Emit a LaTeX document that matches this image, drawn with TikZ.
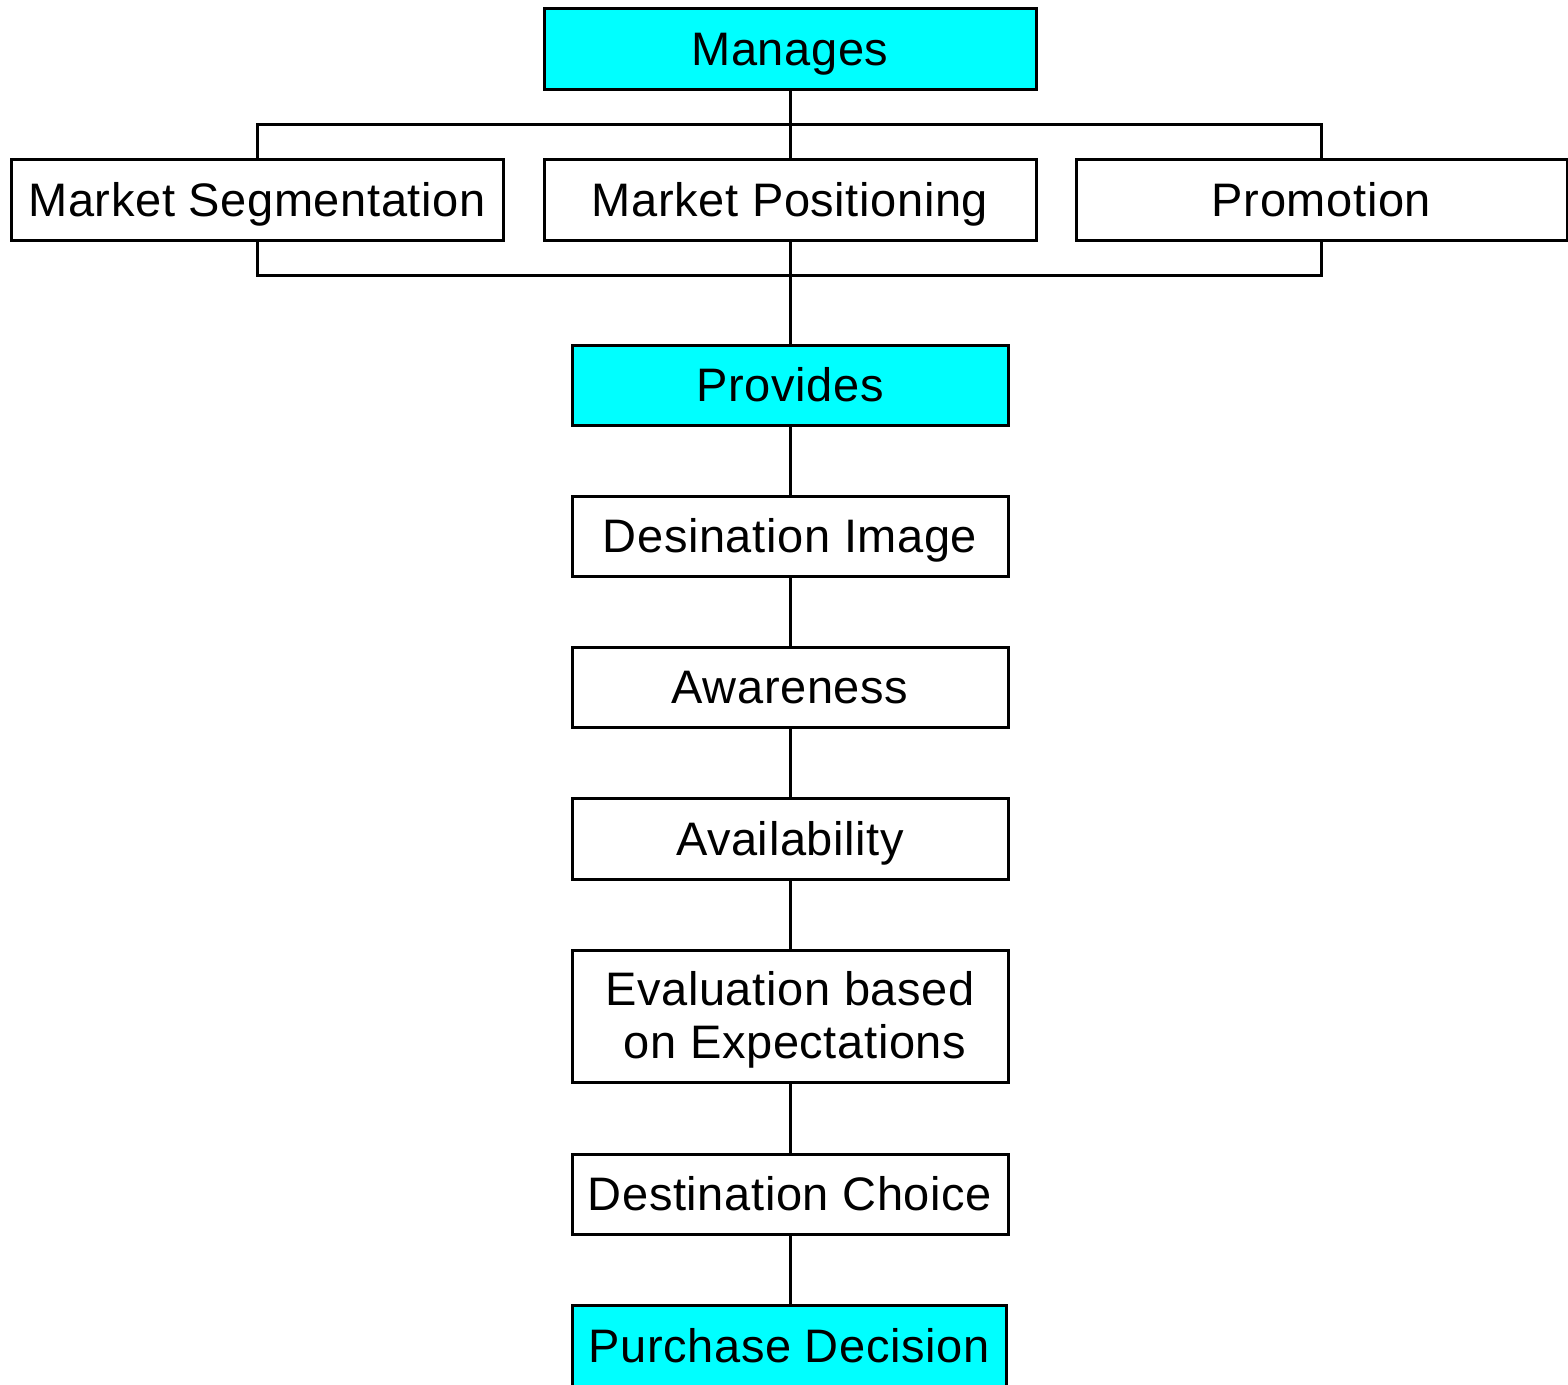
\documentclass[tikz,border=0pt]{standalone}
\usepackage{fontspec}
\setmainfont{Liberation Sans}[LetterSpace=1.3]
\definecolor{boxcyan}{RGB}{0,255,255}
\begin{document}
\begin{tikzpicture}[x=1pt,y=-1pt,
  box/.style={draw=black,line width=3pt,inner sep=0pt,fill=white,
    font=\fontsize{47}{53}\selectfont,align=center,text height=33.6pt,text depth=0pt},
  hl/.style={box,fill=boxcyan},
  conn/.style={draw=black,line width=3pt}]
\clip (0,0) rectangle (1568,1384);
\useasboundingbox (0,0) rectangle (1568,1384);
% boxes: centers and sizes from pixel measurements
\node[hl,minimum width=492pt,minimum height=81pt] (man) at (790,48.5) {Manages};
\node[box,minimum width=492pt,minimum height=81pt] (ms) at (257,199.5) {Market Segmentation};
\node[box,minimum width=492pt,minimum height=81pt] (mp) at (790,199.5) {Market Positioning};
\node[box,minimum width=491pt,minimum height=81pt] (pro) at (1321.5,199.5) {Promotion};
\node[hl,minimum width=436pt,minimum height=80pt] (prov) at (790,385) {Provides};
\node[box,minimum width=436pt,minimum height=80pt] (di) at (790,536) {Desination Image};
\node[box,minimum width=436pt,minimum height=80pt] (aw) at (790,687) {Awareness};
\node[box,minimum width=436pt,minimum height=81pt] (av) at (790,838.5) {Availability};
\node[box,text height=,text depth=,minimum width=436pt,minimum height=132pt] (ev) at (790,1016) {\raisebox{-4pt}[\height][\depth]{\parbox{436pt}{\centering Evaluation based\\ \hspace*{10pt}on Expectations}}};
\node[box,minimum width=436pt,minimum height=80pt] (dc) at (790,1194) {Destination Choice};
\node[hl,minimum width=434pt,minimum height=82pt] (pd) at (789,1346) {Purchase Decision};
% bar coordinates
\coordinate (topbar) at (790,124);
\coordinate (botbar) at (790,275);
% connectors
\draw[conn] (man.south) -- (mp.north);
\draw[conn] (ms.north) -- (ms.north |- topbar) -- (pro.north |- topbar) -- (pro.north);
\draw[conn] (ms.south) -- (ms.south |- botbar) -- (pro.south |- botbar) -- (pro.south);
\draw[conn] (mp.south) -- (prov.north);
\draw[conn] (prov.south) -- (di.north);
\draw[conn] (di.south) -- (aw.north);
\draw[conn] (aw.south) -- (av.north);
\draw[conn] (av.south) -- (ev.north);
\draw[conn] (ev.south) -- (dc.north);
\draw[conn] (dc.south) -- (dc.south |- pd.north);
\end{tikzpicture}
\end{document}
